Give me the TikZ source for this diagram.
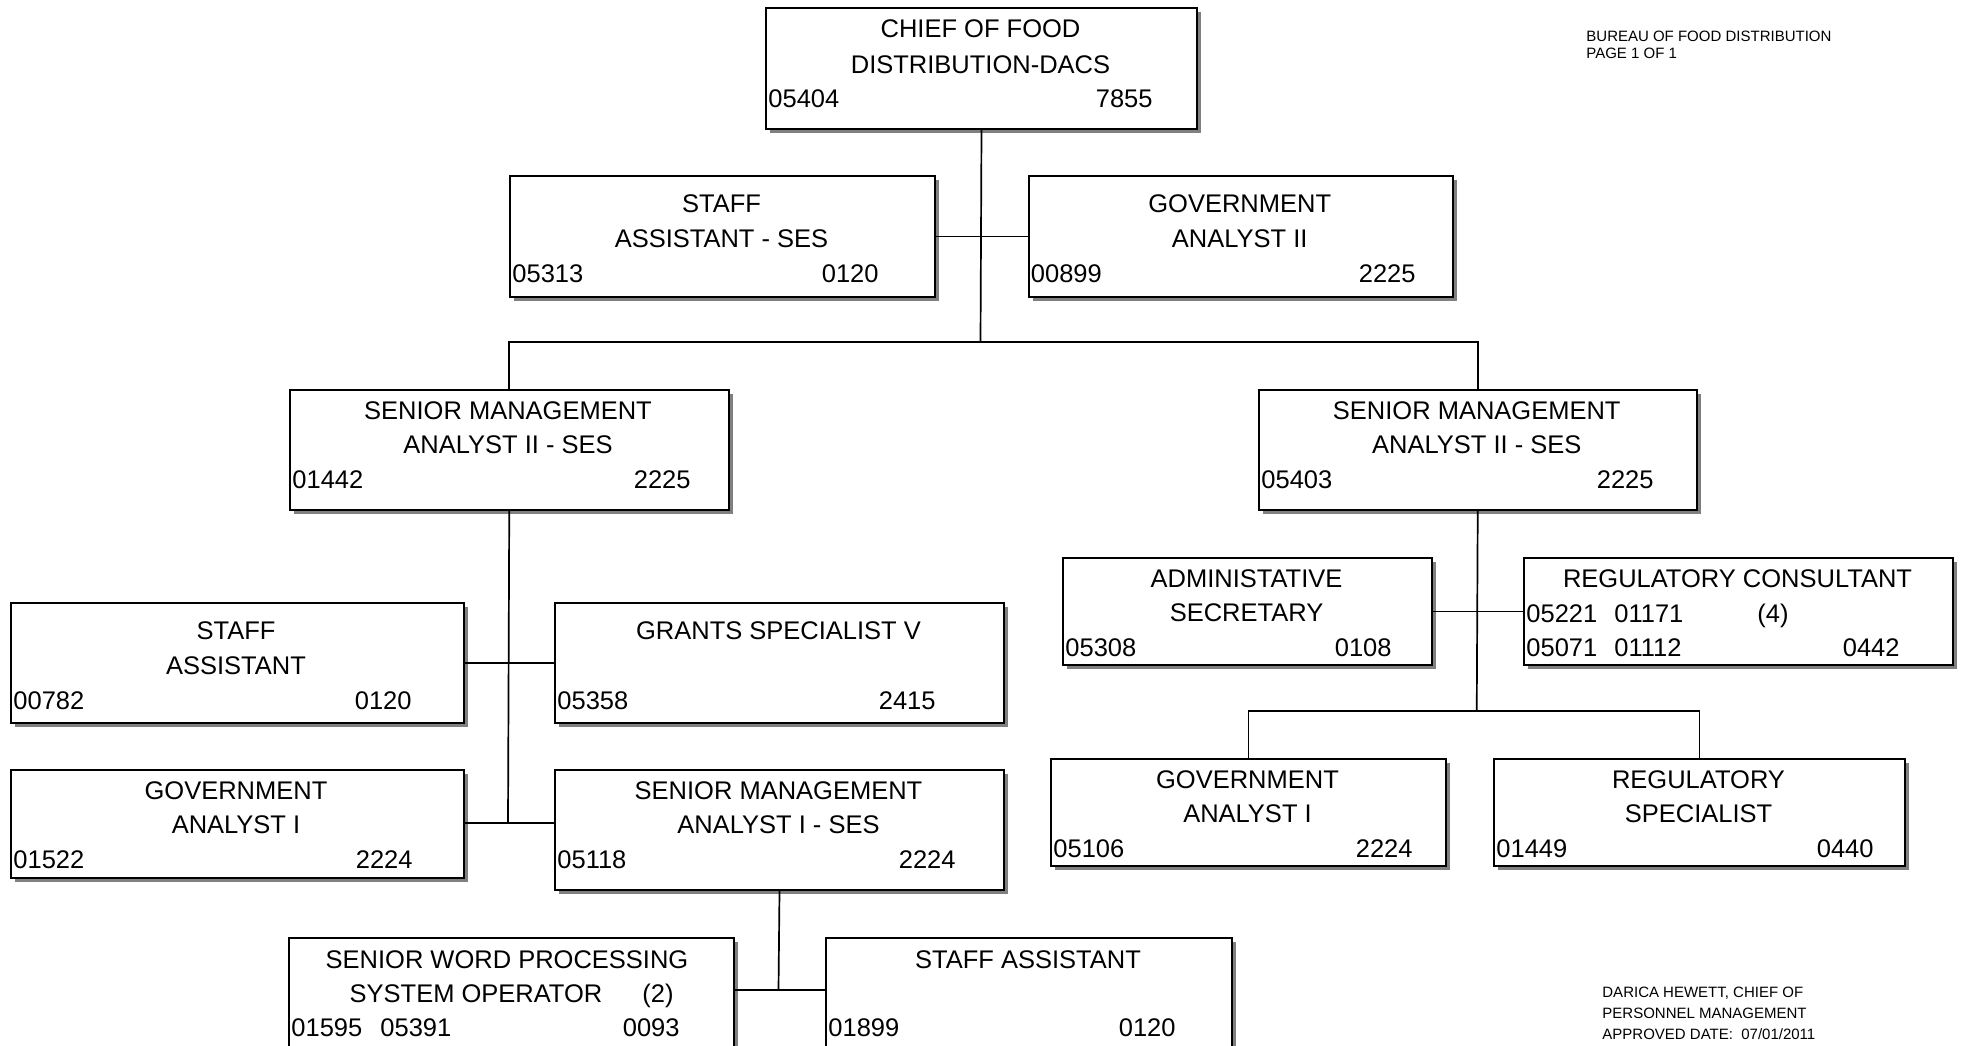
\documentclass[tikz,border=0pt]{standalone}
\usepackage{fontspec}
\setmainfont{Liberation Sans}
\usetikzlibrary{shadows}
\newcommand\orgfont{\fontsize{12.75pt}{15pt}\selectfont}
\newcommand\notefont{\fontsize{7.5pt}{9pt}\selectfont}
\begin{document}
\begin{tikzpicture}[x=0.5pt,y=-0.5pt,
  posbox/.style={draw=black, line width=1pt, fill=white, inner sep=0pt, anchor=north west,
    drop shadow={shadow xshift=2pt, shadow yshift=-2pt, fill=black!50, opacity=1}},
  sz/.style 2 args={minimum width=#1*0.5pt, minimum height=#2*0.5pt},
  link/.style={draw=black, line width=0.85pt},
  ttl/.style={anchor=base, inner sep=0pt, font=\orgfont},
  codel/.style={anchor=base west, inner sep=0pt, font=\orgfont},
  coder/.style={anchor=base east, inner sep=0pt, font=\orgfont},
  note/.style={anchor=base west, inner sep=0pt, font=\notefont}]

\path[use as bounding box] (0,0) rectangle (1961,1045);
\clip (0,0) rectangle (1961,1045);

% ---- position boxes ----
\node[posbox, sz={431}{121}]   (chief) at (765,7) {};
\node[posbox, sz={425}{121}]   (sas)   at (509,175) {};
\node[posbox, sz={424.5}{121}] (ga2)   at (1027.5,175) {};
\node[posbox, sz={438.5}{120}] (sm2l)  at (289,389) {};
\node[posbox, sz={437.5}{120}] (sm2r)  at (1258,389) {};
\node[posbox, sz={452.5}{120}] (sa)    at (10,602) {};
\node[posbox, sz={449}{120}]   (gsv)   at (554,602) {};
\node[posbox, sz={452.5}{108}] (gal)   at (10,769) {};
\node[posbox, sz={449}{120}]   (sm1)   at (554,769) {};
\node[posbox, sz={445}{150}]   (swp)   at (288,937) {};
\node[posbox, sz={406}{150}]   (sab)   at (825,937) {};
\node[posbox, sz={369}{107}]   (adm)   at (1062,557) {};
\node[posbox, sz={429}{107}]   (rc)    at (1523,557) {};
\node[posbox, sz={395}{107}]   (gar)   at (1050,758) {};
\node[posbox, sz={411}{107}]   (rs)    at (1493,758) {};

% ---- connectors ----
\coordinate (busa) at (980.5,342);
\draw[link] (chief.south) -- (busa);
\draw[link] (sas.east) -- (ga2.west);
\draw[link] (sm2l.north) |- (busa) -| (sm2r.north);

\coordinate (busb) at (508,823);
\draw[link] (sm2l.south) -- (busb);
\draw[link] (sa.east) -- (gsv.west);
\draw[link] (gal.east |- busb) -- (sm1.west |- busb);

\coordinate (busc) at (778.5,990);
\draw[link] (sm1.south) -- (busc);
\draw[link] (swp.east |- busc) -- (sab.west |- busc);

\coordinate (busd) at (1476.75,711);
\draw[link] (sm2r.south) -- (busd);
\draw[link] (adm.east) -- (rc.west);
\draw[link] (gar.north) |- (busd) -| (rs.north);

% ---- box texts ----
\node[ttl] (chief-a) at (980.5,37) {CHIEF OF FOOD};
\node[ttl] (chief-b) at (980.5,73) {DISTRIBUTION-DACS};
\node[codel] (chief-c) at (768,107) {05404};
\node[coder] (chief-d) at (1153,107) {7855};

\node[ttl] (sas-a) at (721.5,212) {STAFF};
\node[ttl] (sas-b) at (721.5,247) {ASSISTANT - SES};
\node[codel] (sas-c) at (512,282) {05313};
\node[coder] (sas-d) at (879,282) {0120};

\node[ttl] (ga2-a) at (1239.75,212) {GOVERNMENT};
\node[ttl] (ga2-b) at (1239.75,247) {ANALYST II};
\node[codel] (ga2-c) at (1030.5,282) {00899};
\node[coder] (ga2-d) at (1416,282) {2225};

\node[ttl] (sm2l-a) at (508,419) {SENIOR MANAGEMENT};
\node[ttl] (sm2l-b) at (508,453) {ANALYST II - SES};
\node[codel] (sm2l-c) at (292,488) {01442};
\node[coder] (sm2l-d) at (691,488) {2225};

\node[ttl] (sm2r-a) at (1476.75,419) {SENIOR MANAGEMENT};
\node[ttl] (sm2r-b) at (1476.75,453) {ANALYST II - SES};
\node[codel] (sm2r-c) at (1261,488) {05403};
\node[coder] (sm2r-d) at (1654,488) {2225};

\node[ttl] (sa-a) at (236,639) {STAFF};
\node[ttl] (sa-b) at (236,674) {ASSISTANT};
\node[codel] (sa-c) at (13,709) {00782};
\node[coder] (sa-d) at (412,709) {0120};

\node[ttl] (gsv-a) at (778.5,639) {GRANTS SPECIALIST V};
\node[codel] (gsv-c) at (557,709) {05358};
\node[coder] (gsv-d) at (936,709) {2415};

\node[ttl] (gal-a) at (236,799) {GOVERNMENT};
\node[ttl] (gal-b) at (236,833) {ANALYST I};
\node[codel] (gal-c) at (13,868) {01522};
\node[coder] (gal-d) at (413,868) {2224};

\node[ttl] (sm1-a) at (778.5,799) {SENIOR MANAGEMENT};
\node[ttl] (sm1-b) at (778.5,833) {ANALYST I - SES};
\node[codel] (sm1-c) at (557,868) {05118};
\node[coder] (sm1-d) at (956,868) {2224};

\node[ttl] (swp-a) at (507,968) {SENIOR WORD PROCESSING};
\node[ttl] (swp-b) at (476,1002) {SYSTEM OPERATOR};
\node[ttl] (swp-n) at (658,1002) {(2)};
\node[codel] (swp-c) at (291,1036) {01595};
\node[codel] (swp-e) at (380,1036) {05391};
\node[coder] (swp-d) at (680,1036) {0093};

\node[ttl] (sab-a) at (1028,968) {STAFF ASSISTANT};
\node[codel] (sab-c) at (828,1036) {01899};
\node[coder] (sab-d) at (1176,1036) {0120};

\node[ttl] (adm-a) at (1246.5,587) {ADMINISTATIVE};
\node[ttl] (adm-b) at (1246.5,621) {SECRETARY};
\node[codel] (adm-c) at (1065,656) {05308};
\node[coder] (adm-d) at (1392,656) {0108};

\node[ttl] (rc-a) at (1737.5,587) {REGULATORY CONSULTANT};
\node[codel] (rc-c) at (1526,622) {05221};
\node[codel] (rc-e) at (1614,622) {01171};
\node[ttl] (rc-n) at (1773,622) {(4)};
\node[codel] (rc-f) at (1526,656) {05071};
\node[codel] (rc-g) at (1614,656) {01112};
\node[coder] (rc-d) at (1900,656) {0442};

\node[ttl] (gar-a) at (1247.5,788) {GOVERNMENT};
\node[ttl] (gar-b) at (1247.5,822) {ANALYST I};
\node[codel] (gar-c) at (1053,857) {05106};
\node[coder] (gar-d) at (1413,857) {2224};

\node[ttl] (rs-a) at (1698.5,788) {REGULATORY};
\node[ttl] (rs-b) at (1698.5,822) {SPECIALIST};
\node[codel] (rs-c) at (1496,857) {01449};
\node[coder] (rs-d) at (1874,857) {0440};

% ---- page notes ----
\node[note] (hdr-a) at (1586,41) {BUREAU OF FOOD DISTRIBUTION};
\node[note] (hdr-b) at (1586,58) {PAGE 1 OF 1};
\node[note] (ftr-a) at (1602,997) {DARICA HEWETT, CHIEF OF};
\node[note] (ftr-b) at (1602,1018) {PERSONNEL MANAGEMENT};
\node[note] (ftr-c) at (1602,1039) {APPROVED DATE:~~07/01/2011};
\end{tikzpicture}
\end{document}
